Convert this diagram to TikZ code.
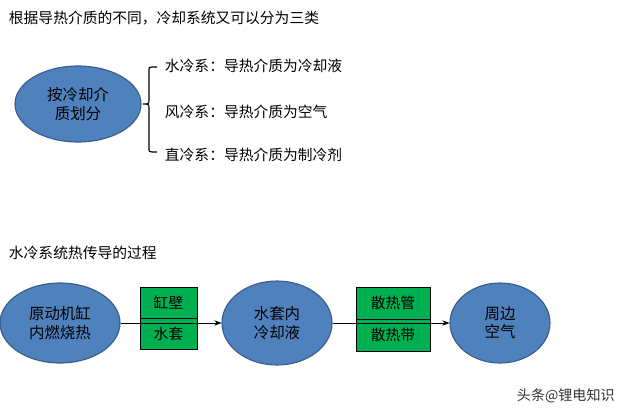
\documentclass[tikz,border=0pt]{standalone}
\usepackage{fontspec}
\setmainfont{Noto Sans CJK SC}
\usetikzlibrary{shapes.geometric,arrows.meta}
\definecolor{blobblue}{HTML}{4F81BD}
\definecolor{blobline}{HTML}{385D8A}
\definecolor{boxgreen}{HTML}{00B050}
\tikzset{
  blob/.style={ellipse, draw=blobline, fill=blobblue, thick, minimum width=#1, align=center, font=\fontsize{11}{13}\selectfont, inner sep=0pt},
  layer/.style={draw=black, fill=boxgreen, minimum width=57*0.025cm, minimum height=31*0.025cm, font=\fontsize{10.5}{12}\selectfont, inner sep=0pt},
  label/.style={anchor=west, font=\fontsize{10.5}{12}\selectfont}
}
\begin{document}
\begin{tikzpicture}[x=0.025cm, y=-0.025cm]
  \useasboundingbox (0,0) rectangle (640,417);

  % first part
  \node[label] (title1) at (4,18) {根据导热介质的不同，冷却系统又可以分为三类};
  \node[blob=126*0.025cm, minimum height=76*0.025cm] (medium) at (78,104) {按冷却介\\质划分};
  \draw[thick] (157,67) -- (152,67) .. controls (149,67) .. (149,72) -- (149,99)
    .. controls (149,104) .. (143,104) .. controls (149,104) .. (149,109) -- (149,147)
    .. controls (149,152) .. (152,152) -- (157,152);
  \node[label] (water) at (160,66) {水冷系：导热介质为冷却液};
  \node[label] (air) at (160,112) {风冷系：导热介质为空气};
  \node[label] (direct) at (160,155) {直冷系：导热介质为制冷剂};

  % second part
  \node[label] (title2) at (4,253) {水冷系统热传导的过程};
  \node[blob=120*0.025cm, minimum height=80*0.025cm] (burn) at (60,323) {原动机缸\\内燃烧热};
  \node[blob=110*0.025cm, minimum height=84*0.025cm] (coolant) at (277,323) {水套内\\冷却液};
  \node[blob=100*0.025cm, minimum height=80*0.025cm] (ambient) at (500,323) {周边\\空气};
  \node[layer] (wall) at (168.5,303) {缸壁};
  \node[layer] (jacket) at (168.5,334) {水套};
  \node[layer, minimum width=74*0.025cm, minimum height=32*0.025cm] (tube) at (393,303) {散热管};
  \node[layer, minimum width=74*0.025cm, minimum height=32*0.025cm] (belt) at (393,335) {散热带};
  \draw[-{Stealth[length=5pt]}] (burn) -- (coolant);
  \draw[-{Stealth[length=5pt]}] (coolant) -- (ambient);

  % watermark
  \node[anchor=west, font=\fontsize{10}{12}\selectfont, text=black!80] (mark) at (512,396) {头条@锂电知识};
\end{tikzpicture}
\end{document}
